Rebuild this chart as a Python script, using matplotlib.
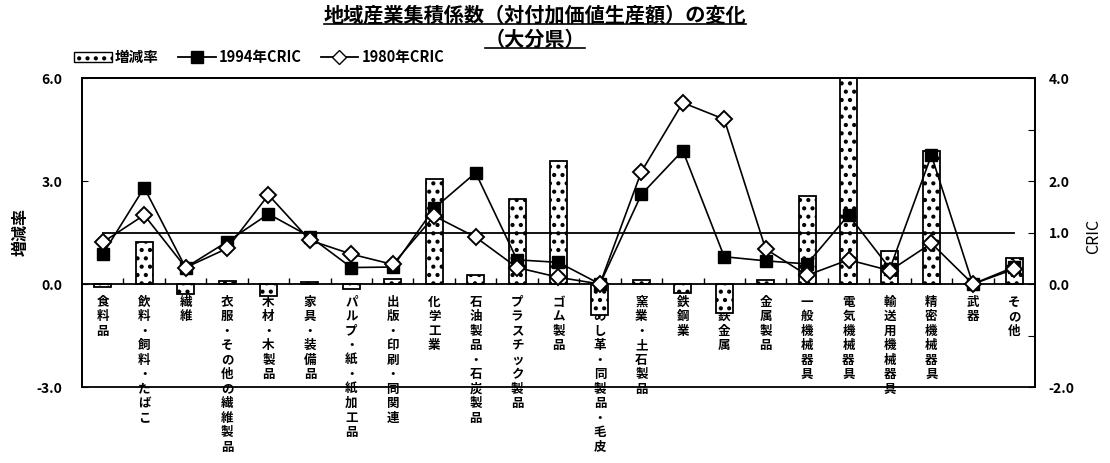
import matplotlib
matplotlib.use("Agg")
from matplotlib import pyplot as plt
from matplotlib.lines import Line2D
from matplotlib.patches import Patch

plt.rcParams['font.family'] = ['Noto Sans CJK JP', 'DejaVu Sans']
plt.rcParams['hatch.linewidth'] = 1.8

# categories (industries)
industries = ["食料品", "飲料・飼料・たばこ", "繊維", "衣服・その他の繊維製品", "木材・木製品",
              "家具・装備品", "パルプ・紙・紙加工品", "出版・印刷・同関連", "化学工業",
              "石油製品・石炭製品", "プラスチック製品", "ゴム製品", "なめし革・同製品・毛皮",
              "窯業・土石製品", "鉄鋼業", "非鉄金属", "金属製品", "一般機械器具", "電気機械器具",
              "輸送用機械器具", "精密機械器具", "武器", "その他"]

# 増減率 (left axis)
change_rate = [-0.1, 1.22, -0.3, 0.1, -0.35, 0.05, -0.15, 0.15, 3.06, 0.25, 2.47, 3.57, -0.9,
               0.12, -0.25, -0.85, 0.13, 2.55, 7.5, 0.97, 3.88, 0.0, 0.77]

# CRIC (right axis)
cric_1994 = [0.58, 1.87, 0.32, 0.82, 1.36, 0.92, 0.32, 0.33, 1.47, 2.16, 0.47, 0.42, 0.0,
             1.74, 2.59, 0.53, 0.45, 0.39, 1.34, 0.30, 2.50, 0.0, 0.33]
cric_1980 = [0.81, 1.34, 0.32, 0.69, 1.73, 0.85, 0.58, 0.38, 1.32, 0.91, 0.32, 0.13, 0.0,
             2.18, 3.52, 3.20, 0.68, 0.17, 0.47, 0.26, 0.79, 0.0, 0.29]
baseline = [1.0] * len(industries)

left_ticks = [-3, 0, 3, 6]
left_labels = ["-3.0", "0.0", "3.0", "6.0"]
right_ticks = [-2, -1, 0, 1, 2, 3, 4]
right_labels = ["-2.0", "", "0.0", "1.0", "2.0", "", "4.0"]

fig = plt.figure(figsize=(11.1, 4.63), dpi=100)
ax = fig.add_axes([0.0739, 0.1641, 0.8585, 0.6674])
ax2 = ax.twinx()

x = list(range(len(industries)))

ax.bar(x, change_rate, 0.41, color="white", edgecolor="black", hatch="..", linewidth=1.3,
       zorder=2)
ax.set_xlim(-0.5, len(industries) - 0.5)
ax.set_ylim(-3, 6)
ax.set_yticks(left_ticks)
ax.set_yticklabels(left_labels, fontweight="bold")
ax.tick_params(axis="y", direction="in", length=4, labelsize=10, pad=14)

# x axis drawn at zero with ticks at category boundaries
ax.spines["bottom"].set_position(("data", 0))
ax.spines["bottom"].set_linewidth(1.3)
ax.set_xticks([i + 0.5 for i in x[:-1]])
ax.set_xticklabels([])
ax.tick_params(axis="x", direction="in", length=4, width=1)
for s in ["left", "top", "right"]:
    ax.spines[s].set_linewidth(1.3)

ax2.plot(x, baseline, color="black", linewidth=1.3, zorder=3)
ax2.plot(x, cric_1994, color="black", linewidth=1.2, marker="s", markersize=8.5,
         markerfacecolor="black", markeredgecolor="black", zorder=4)
ax2.plot(x, cric_1980, color="black", linewidth=1.2, marker="D", markersize=8.5,
         markerfacecolor="white", markeredgecolor="black", markeredgewidth=1.4, zorder=5)
ax2.set_ylim(-2, 4)
ax2.set_yticks(right_ticks)
ax2.set_yticklabels(right_labels, fontweight="bold")
ax2.tick_params(axis="y", direction="in", length=5, labelsize=10, pad=10)
for s in ax2.spines.values():
    s.set_linewidth(1.3)

# vertical (stacked) category labels
for i, name in enumerate(industries):
    for j, ch in enumerate(name):
        ax.annotate(ch, xy=(i, 0), xytext=(0, -18 - j * 14.5), textcoords="offset pixels",
                    ha="center", va="center", fontsize=9, fontweight="bold",
                    annotation_clip=False, zorder=1)

fig.text(0.011, 0.50, "増減率", rotation=90, ha="left", va="center", fontsize=11.5,
         fontweight="bold")
fig.text(0.993, 0.49, "CRIC", rotation=90, ha="right", va="center", fontsize=11.5)

# title with underline
t1 = fig.text(0.482, 0.968, "地域産業集積係数（対付加価値生産額）の変化", ha="center", va="center",
              fontsize=14.5, fontweight="bold")
t2 = fig.text(0.482, 0.916, "（大分県）", ha="center", va="center", fontsize=14.5,
              fontweight="bold")
fig.canvas.draw()
r = fig.canvas.get_renderer()
for t in (t1, t2):
    bb = t.get_window_extent(r)
    y = (bb.y0 + 1) / fig.bbox.height
    fig.add_artist(Line2D([bb.x0 / fig.bbox.width, bb.x1 / fig.bbox.width], [y, y],
                          color="black", linewidth=1.2, transform=fig.transFigure))

handles = [Patch(facecolor="white", edgecolor="black", hatch=".."),
           Line2D([], [], color="black", marker="s", markersize=8, linewidth=1.3),
           Line2D([], [], color="black", marker="D", markersize=7, markerfacecolor="white",
                  linewidth=1.3)]
fig.legend(handles, ["増減率", "1994年CRIC", "1980年CRIC"], loc="center left",
           bbox_to_anchor=(0.055, 0.877), ncol=3, frameon=False,
           handlelength=2.6, handletextpad=0.2, columnspacing=1.3,
           prop={"weight": "bold", "size": 10.5})

fig.savefig("out.png", dpi=100)
